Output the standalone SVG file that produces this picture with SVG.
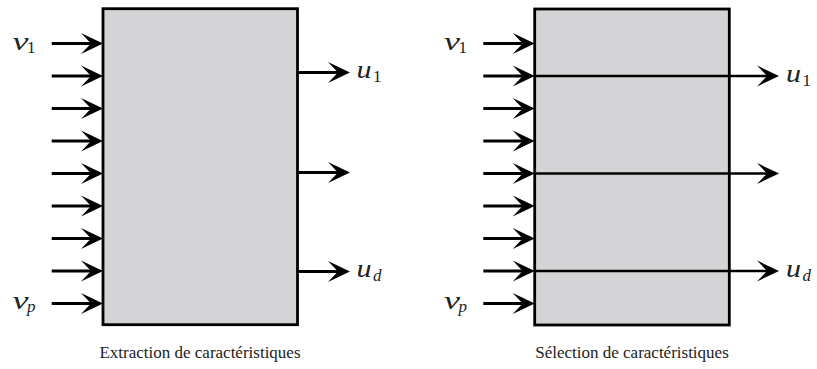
<svg xmlns="http://www.w3.org/2000/svg" width="817" height="369" viewBox="0 0 817 369">
<defs>
<marker id="ah" markerUnits="userSpaceOnUse" markerWidth="24" markerHeight="24" viewBox="0 -12 24 24" refX="10" refY="0" orient="auto" overflow="visible">
<path d="M0,-10.5 L22,0 L0,10.5 L10,0 Z" fill="#000"/>
</marker>
<style>
.box{fill:#d4d3d5;stroke:#000;stroke-width:2.8}
.ar{stroke:#000;stroke-width:3;fill:none;marker-end:url(#ah)}
.thru{stroke:#000;stroke-width:2.6;fill:none;marker-end:url(#ah)}
text{font-family:'Liberation Serif','Times New Roman','DejaVu Serif',serif;fill:#222}
.m{font-style:italic;font-size:25px}
.s{font-style:normal;font-size:17px}
.si{font-style:italic;font-size:17px}
.cap{font-size:17px;text-anchor:middle}
</style>
</defs>
<g id="extraction">
<rect class="box" x="103" y="8.7" width="194.5" height="316"/>
</g>
<g id="selection">
<rect class="box" x="534.7" y="9" width="194.6" height="316"/>
</g>
<g id="connectors">
<line class="ar" x1="51.7" y1="43.5" x2="91" y2="43.5"/>
<line class="ar" x1="51.7" y1="76" x2="91" y2="76"/>
<line class="ar" x1="51.7" y1="108.5" x2="91" y2="108.5"/>
<line class="ar" x1="51.7" y1="141" x2="91" y2="141"/>
<line class="ar" x1="51.7" y1="173.5" x2="91" y2="173.5"/>
<line class="ar" x1="51.7" y1="206" x2="91" y2="206"/>
<line class="ar" x1="51.7" y1="238.5" x2="91" y2="238.5"/>
<line class="ar" x1="51.7" y1="271" x2="91" y2="271"/>
<line class="ar" x1="51.7" y1="303.5" x2="91" y2="303.5"/>
<line class="ar" x1="297.5" y1="72.5" x2="338" y2="72.5"/>
<line class="ar" x1="297.5" y1="172.5" x2="338" y2="172.5"/>
<line class="ar" x1="297.5" y1="271.5" x2="338" y2="271.5"/>
<line class="ar" x1="483.3" y1="43.5" x2="522.7" y2="43.5"/>
<line class="ar" x1="483.3" y1="76" x2="522.7" y2="76"/>
<line class="ar" x1="483.3" y1="108.5" x2="522.7" y2="108.5"/>
<line class="ar" x1="483.3" y1="141" x2="522.7" y2="141"/>
<line class="ar" x1="483.3" y1="173.5" x2="522.7" y2="173.5"/>
<line class="ar" x1="483.3" y1="206" x2="522.7" y2="206"/>
<line class="ar" x1="483.3" y1="238.5" x2="522.7" y2="238.5"/>
<line class="ar" x1="483.3" y1="271" x2="522.7" y2="271"/>
<line class="ar" x1="483.3" y1="303.5" x2="522.7" y2="303.5"/>
<line class="thru" x1="534.7" y1="76" x2="767" y2="76"/>
<line class="thru" x1="534.7" y1="173.5" x2="767" y2="173.5"/>
<line class="thru" x1="534.7" y1="271" x2="767" y2="271"/>
</g>
<g id="labels">
<text class="m" x="12.5" y="50" textLength="16" lengthAdjust="spacingAndGlyphs">v</text>
<text class="s" x="27" y="53">1</text>
<text class="m" x="12.5" y="309" textLength="16" lengthAdjust="spacingAndGlyphs">v</text>
<text class="si" x="27" y="312">p</text>
<text class="m" x="444" y="50" textLength="16" lengthAdjust="spacingAndGlyphs">v</text>
<text class="s" x="458.5" y="53">1</text>
<text class="m" x="444" y="309" textLength="16" lengthAdjust="spacingAndGlyphs">v</text>
<text class="si" x="458.5" y="312">p</text>
<text class="m" x="356.5" y="78" textLength="15" lengthAdjust="spacingAndGlyphs">u</text>
<text class="s" x="373" y="82">1</text>
<text class="m" x="356.5" y="277" textLength="15" lengthAdjust="spacingAndGlyphs">u</text>
<text class="si" x="373" y="281">d</text>
<text class="m" x="786" y="81.5" textLength="15" lengthAdjust="spacingAndGlyphs">u</text>
<text class="s" x="802.5" y="85.5">1</text>
<text class="m" x="786" y="277" textLength="15" lengthAdjust="spacingAndGlyphs">u</text>
<text class="si" x="802.5" y="281">d</text>
<text class="cap" x="200" y="358">Extraction de caractéristiques</text>
<text class="cap" x="632" y="358">Sélection de caractéristiques</text>
</g>
</svg>
